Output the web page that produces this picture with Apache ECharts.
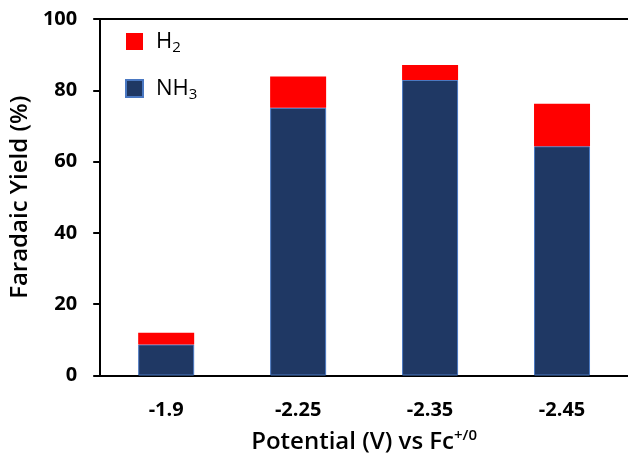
<!DOCTYPE html>
<html>
<head>
<meta charset="utf-8">
<script src="https://cdn.jsdelivr.net/npm/echarts@6/dist/echarts.min.js"></script>
<style>html,body{margin:0;padding:0;background:#fff;}#c{width:628px;height:459px;}</style>
</head>
<body>
<div id="c"></div>
<script>
const categories = ['-1.9', '-2.25', '-2.35', '-2.45'];
const nh3 = [8.7, 75.1, 82.9, 64.3];
const h2 = [3.3, 8.8, 4.2, 11.9];
const yMin = 0, yMax = 100, yStep = 20;

const FONT = 'Open Sans';
const chart = echarts.init(document.getElementById('c'), null, {renderer: 'canvas'});
chart.setOption({
  animation: false,
  backgroundColor: '#fff',
  grid: {left: 96, top: 19, right: 0, bottom: 77},
  legend: {
    orient: 'vertical', left: 120, top: 23,
    itemWidth: 17, itemHeight: 17, itemGap: 20,
    icon: 'rect',
    data: ['H2', 'NH3'],
    formatter: function (n) { return n === 'H2' ? '{b|H}{s|2}' : '{b|NH}{s|3}'; },
    textStyle: {
      fontFamily: FONT, color: '#000', padding: [0, 0, 0, 8],
      rich: {
        b: {fontFamily: FONT, fontSize: 22, color: '#000', lineHeight: 28},
        s: {fontFamily: FONT, fontSize: 15, color: '#000', lineHeight: 28, padding: [12, 0, 0, 0]}
      }
    }
  },
  xAxis: [{
    type: 'category', data: categories, position: 'bottom',
    axisLine: {lineStyle: {color: '#000', width: 2}},
    axisTick: {show: false},
    axisLabel: {fontFamily: FONT, fontWeight: 'bold', fontSize: 20, color: '#000', margin: 25},
    name: '{t|Potential (V) vs Fc}{p|+/0}', nameLocation: 'middle', nameGap: 53,
    nameTextStyle: {
      rich: {
        t: {fontFamily: FONT, fontSize: 24, fontWeight: 600, color: '#000'},
        p: {fontFamily: FONT, fontSize: 15, fontWeight: 600, color: '#000', padding: [0, 0, 12, 0]}
      }
    }
  }, {
    type: 'category', data: categories, position: 'top',
    axisLine: {lineStyle: {color: '#000', width: 2}},
    axisTick: {show: false}, axisLabel: {show: false}
  }],
  yAxis: {
    type: 'value', min: yMin, max: yMax, interval: yStep,
    axisLine: {show: true, lineStyle: {color: '#000', width: 2}},
    axisTick: {show: true, inside: false, length: 7, lineStyle: {color: '#000', width: 2}},
    splitLine: {show: false},
    axisLabel: {fontFamily: FONT, fontWeight: 'bold', fontSize: 20, color: '#000', margin: 23},
    name: 'Faradaic Yield (%)', nameLocation: 'middle', nameGap: 63, nameRotate: 90,
    nameTextStyle: {fontFamily: FONT, fontSize: 24, fontWeight: 600, color: '#000'}
  },
  series: [{
    name: 'NH3', type: 'bar', stack: 'fy', data: nh3, barWidth: 56,
    itemStyle: {color: '#1f3864', borderColor: '#4a78c2', borderWidth: 1}
  }, {
    name: 'H2', type: 'bar', stack: 'fy', data: h2, barWidth: 56,
    itemStyle: {color: '#ff0000'}
  }]
});
</script>
</body>
</html>
